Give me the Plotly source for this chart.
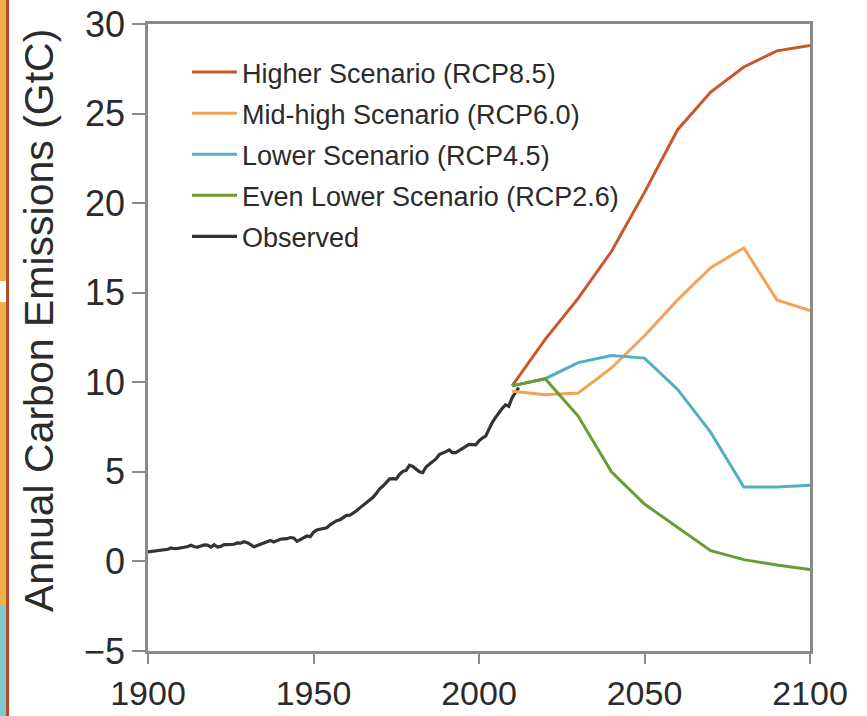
import plotly.graph_objects as go

# ---------------- data ----------------
obs_years = list(range(1900, 2013))
obs_values = [
    0.53, 0.55, 0.56, 0.61, 0.61, 0.64, 0.68, 0.75, 0.71, 0.73,
    0.78, 0.79, 0.83, 0.90, 0.82, 0.80, 0.86, 0.92, 0.91, 0.80,
    0.93, 0.80, 0.84, 0.94, 0.94, 0.96, 0.96, 1.03, 1.02, 1.10,
    1.05, 0.94, 0.82, 0.89, 0.97, 1.03, 1.13, 1.17, 1.09, 1.16,
    1.24, 1.26, 1.27, 1.33, 1.31, 1.12, 1.22, 1.36, 1.42, 1.38,
    1.63, 1.76, 1.79, 1.84, 1.88, 2.04, 2.18, 2.27, 2.33, 2.46,
    2.57, 2.58, 2.68, 2.83, 2.99, 3.13, 3.29, 3.39, 3.58, 3.80,
    4.05, 4.21, 4.38, 4.61, 4.62, 4.60, 4.86, 5.03, 5.08, 5.37,
    5.30, 5.14, 5.00, 4.95, 5.27, 5.43, 5.60, 5.72, 5.96, 6.07,
    6.13, 6.22, 6.07, 6.07, 6.19, 6.31, 6.41, 6.53, 6.52, 6.51,
    6.73, 6.89, 6.99, 7.38, 7.75, 8.04, 8.33, 8.54, 8.74, 8.66,
    9.14, 9.45, 9.70,
]

scen_years = [2010, 2020, 2030, 2040, 2050, 2060, 2070, 2080, 2090, 2100]
rcp85 = [9.8, 12.4, 14.7, 17.3, 20.6, 24.1, 26.2, 27.6, 28.5, 28.8]
rcp60 = [9.5, 9.3, 9.4, 10.8, 12.6, 14.6, 16.4, 17.5, 14.6, 14.0]
rcp45 = [9.8, 10.2, 11.1, 11.5, 11.35, 9.6, 7.2, 4.15, 4.15, 4.25]
rcp26 = [9.8, 10.2, 8.1, 5.0, 3.2, 1.9, 0.6, 0.1, -0.2, -0.45]

series_names = [
    "Higher Scenario (RCP8.5)",
    "Mid-high Scenario (RCP6.0)",
    "Lower Scenario (RCP4.5)",
    "Even Lower Scenario (RCP2.6)",
    "Observed",
]
series_colors = ["#C9572B", "#F1A457", "#4FB1C0", "#6C9A33", "#333333"]

x_ticks = [1900, 1950, 2000, 2050, 2100]
y_ticks = [-5, 0, 5, 10, 15, 20, 25, 30]
y_title = "Annual Carbon Emissions (GtC)"

# ---------------- figure ----------------
W, H = 867, 716
ML, MR, MT, MB = 148, 57, 24, 65

fig = go.Figure()
fig.add_trace(go.Scatter(x=obs_years, y=obs_values, mode="lines",
                         name=series_names[4], legendgroup=series_names[4],
                         legendrank=5,
                         line=dict(color=series_colors[4], width=3.2)))
scen_data = [rcp85, rcp60, rcp45, rcp26]
for k, (name, vals, col) in enumerate(zip(series_names[:4], scen_data, series_colors[:4])):
    fig.add_trace(go.Scatter(x=scen_years, y=vals, mode="lines", name=name,
                             legendgroup=name, legendrank=k + 1,
                             line=dict(color=col, width=3)))

def px_x(p):
    return (p - ML) / (W - ML - MR)

def px_y(p):
    return 1 - (p - MT) / (H - MT - MB)

shapes = [
    dict(type="rect", xref="paper", yref="paper", x0=px_x(0), x1=px_x(6),
         y0=px_y(605), y1=px_y(0), fillcolor="#F4B04C", line_width=0, layer="above"),
    dict(type="rect", xref="paper", yref="paper", x0=px_x(0), x1=px_x(6),
         y0=px_y(716), y1=px_y(605), fillcolor="#7FCACB", line_width=0, layer="above"),
    dict(type="rect", xref="paper", yref="paper", x0=px_x(0), x1=px_x(6),
         y0=px_y(302), y1=px_y(281), fillcolor="#FFFFFF", line_width=0, layer="above"),
    dict(type="rect", xref="paper", yref="paper", x0=px_x(6), x1=px_x(9),
         y0=px_y(716), y1=px_y(0), fillcolor="#B8492A", line_width=0, layer="above"),
]

axis_common = dict(
    showgrid=False, zeroline=False, showline=True, linecolor="#8a8a8a",
    linewidth=2.5, mirror=True, ticks="outside", tickwidth=2,
    tickcolor="#8a8a8a", automargin=False,
)

fig.update_layout(
    width=W, height=H,
    margin=dict(l=ML, r=MR, t=MT, b=MB, autoexpand=False),
    paper_bgcolor="white", plot_bgcolor="white",
    font=dict(family="Liberation Sans, Arial, sans-serif", color="#2b2b2b"),
    shapes=shapes,
    xaxis=dict(range=[1900, 2100], tickvals=x_ticks, ticklen=10,
               tickfont=dict(size=34, color="#2b2b2b"), **axis_common),
    yaxis=dict(range=[-5, 30], tickvals=y_ticks, ticklen=13,
               tickfont=dict(size=36, color="#2b2b2b"), **axis_common),
    annotations=[dict(
        text=y_title, textangle=-90, xref="paper", yref="paper",
        x=px_x(39), y=px_y(321), xanchor="center", yanchor="middle",
        showarrow=False, font=dict(size=41, color="#2b2b2b"),
    )],
    legend=dict(
        x=px_x(187), y=px_y(48), xanchor="left", yanchor="top",
        bgcolor="rgba(0,0,0,0)", borderwidth=0,
        font=dict(size=27, color="#2b2b2b"),
        traceorder="grouped", tracegroupgap=3, itemwidth=45,
    ),
)

fig.write_html("out.html")
